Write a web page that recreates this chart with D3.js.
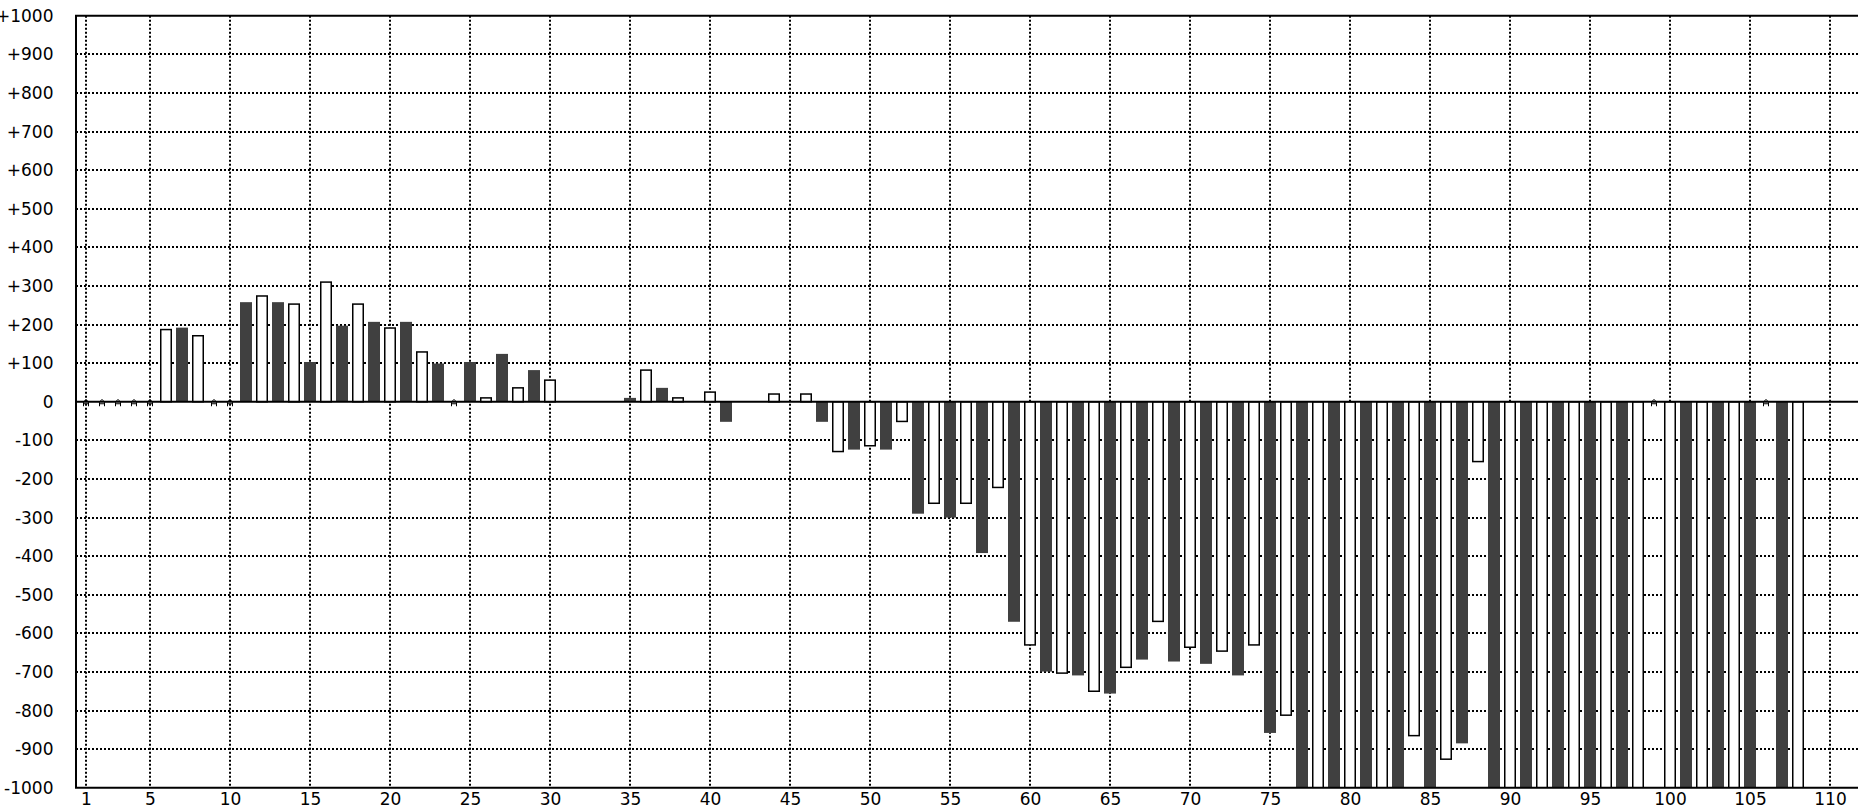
<!DOCTYPE html>
<html>
<head>
<meta charset="utf-8">
<script src="https://cdn.jsdelivr.net/npm/d3@7"></script>
<style>
  html, body { margin: 0; padding: 0; background: #fff; }
  svg { display: block; }
  text { font-family: "DejaVu Sans", Verdana, sans-serif; font-size: 17px; fill: #000; }
</style>
</head>
<body>
<svg id="chart" width="1858" height="810"></svg>
<script>
// ---- data ----
const categories = d3.range(1, 109); // 1..108
// null = missing (marker drawn on the zero line)
const values = [
  null, null, null, null, null, 187, 192, 171, null, null,
  258, 274, 258, 253, 103, 310, 197, 253, 207, 191,
  207, 129, 99, null, 103, 10, 124, 36, 82, 56,
  0, 0, 0, 0, 10, 82, 36, 10, 0, 25,
  -52, 0, 0, 20, 0, 20, -52, -129, -124, -114,
  -124, -51, -290, -263, -300, -263, -392, -222, -570, -630,
  -699, -703, -709, -750, -756, -688, -668, -569, -673, -636,
  -679, -646, -709, -630, -858, -812, -1000, -1000, -1000, -1000,
  -1000, -1000, -1000, -865, -1000, -926, -885, -155, -1000, -1000,
  -1000, -1000, -1000, -1000, -1000, -1000, -1000, -1000, null, -1000,
  -1000, -1000, -1000, -1000, -1000, null, -1000, -1000
];
const xTickValues = [1, 5, 10, 15, 20, 25, 30, 35, 40, 45, 50, 55, 60, 65, 70, 75, 80, 85, 90, 95, 100, 105, 110];
const yTickValues = [1000, 900, 800, 700, 600, 500, 400, 300, 200, 100, 0, -100, -200, -300, -400, -500, -600, -700, -800, -900, -1000];
const yTickLabels = ["+1000", "+900", "+800", "+700", "+600", "+500", "+400", "+300", "+200", "+100", "0",
  "-100", "-200", "-300", "-400", "-500", "-600", "-700", "-800", "-900", "-1000"];

// ---- layout ----
const pL = 76, pT = 15.75, pB = 787.75, pR = 1858;
const svg = d3.select("#chart");

const x = d3.scaleLinear().domain([1, 110]).range([86, 1830]);
const y = d3.scaleLinear().domain([-1000, 1000]).range([pB, pT]);
const barW = 12;

svg.append("defs").append("clipPath").attr("id", "plotclip")
  .append("rect").attr("x", pL).attr("y", pT).attr("width", pR - pL).attr("height", pB - pT);

// grid
const grid = svg.append("g").attr("stroke", "#000").attr("stroke-width", 2).attr("stroke-dasharray", "2,2");
grid.selectAll("line.h").data(yTickValues.filter(v => v !== 0 && Math.abs(v) !== 1000)).join("line")
  .attr("class", "h")
  .attr("x1", pL).attr("x2", pR)
  .attr("y1", d => Math.round(y(d))).attr("y2", d => Math.round(y(d)));
grid.selectAll("line.v").data(xTickValues).join("line")
  .attr("class", "v")
  .attr("x1", d => x(d)).attr("x2", d => x(d))
  .attr("y1", pT).attr("y2", pB);

// bars
const data = categories.map((c, i) => ({ c, v: values[i] }));
const bars = svg.append("g").attr("clip-path", "url(#plotclip)");
bars.selectAll("rect").data(data.filter(d => d.v !== null && d.v !== 0)).join("rect")
  .attr("x", d => d.c % 2 === 1 ? x(d.c) - barW / 2 : x(d.c) - barW / 2 + 0.75)
  .attr("width", d => d.c % 2 === 1 ? barW : barW - 1.5)
  .attr("y", d => Math.min(y(d.v), y(0)))
  .attr("height", d => Math.abs(y(d.v) - y(0)))
  .attr("fill", d => d.c % 2 === 1 ? "#404040" : "#fff")
  .attr("stroke", d => d.c % 2 === 1 ? "none" : "#000")
  .attr("stroke-width", 1.5);

// zero line
svg.append("line").attr("x1", pL).attr("x2", pR)
  .attr("y1", y(0)).attr("y2", y(0)).attr("stroke", "#000").attr("stroke-width", 2);

// missing markers
const y0 = y(0);
svg.append("g").attr("fill", "none").attr("stroke", "#000").attr("stroke-width", 1)
  .selectAll("path").data(data.filter(d => d.v === null)).join("path")
  .attr("d", d => {
    const cx = x(d.c);
    return `M${cx - 2.5},${y0 + 4.5} L${cx - 2.5},${y0 + 0.5} L${cx - 0.5},${y0 - 2} L${cx + 0.5},${y0 - 2} L${cx + 2.5},${y0 + 0.5} L${cx + 2.5},${y0 + 4.5} M${cx - 2.5},${y0 + 2} L${cx + 2.5},${y0 + 2}`;
  });

// frame
svg.append("path")
  .attr("d", `M${pR},${pT} L${pL},${pT} L${pL},${pB} L${pR},${pB}`)
  .attr("fill", "none").attr("stroke", "#000").attr("stroke-width", 2);

// axes (labels only)
const yAxis = d3.axisLeft(y).tickValues(yTickValues)
  .tickFormat((d, i) => yTickLabels[i]).tickSize(0).tickPadding(22.5);
const gy = svg.append("g").attr("transform", `translate(${pL},0)`).call(yAxis);
gy.select(".domain").remove();
gy.selectAll("text").attr("font-family", "DejaVu Sans").attr("font-size", 17).attr("fill", "#000");

const xAxis = d3.axisBottom(x).tickValues(xTickValues).tickFormat(d3.format("d")).tickSize(0).tickPadding(5);
const gx = svg.append("g").attr("transform", `translate(0,${pB})`).call(xAxis);
gx.select(".domain").remove();
gx.selectAll("text").attr("font-family", "DejaVu Sans").attr("font-size", 17).attr("fill", "#000");
</script>
</body>
</html>
